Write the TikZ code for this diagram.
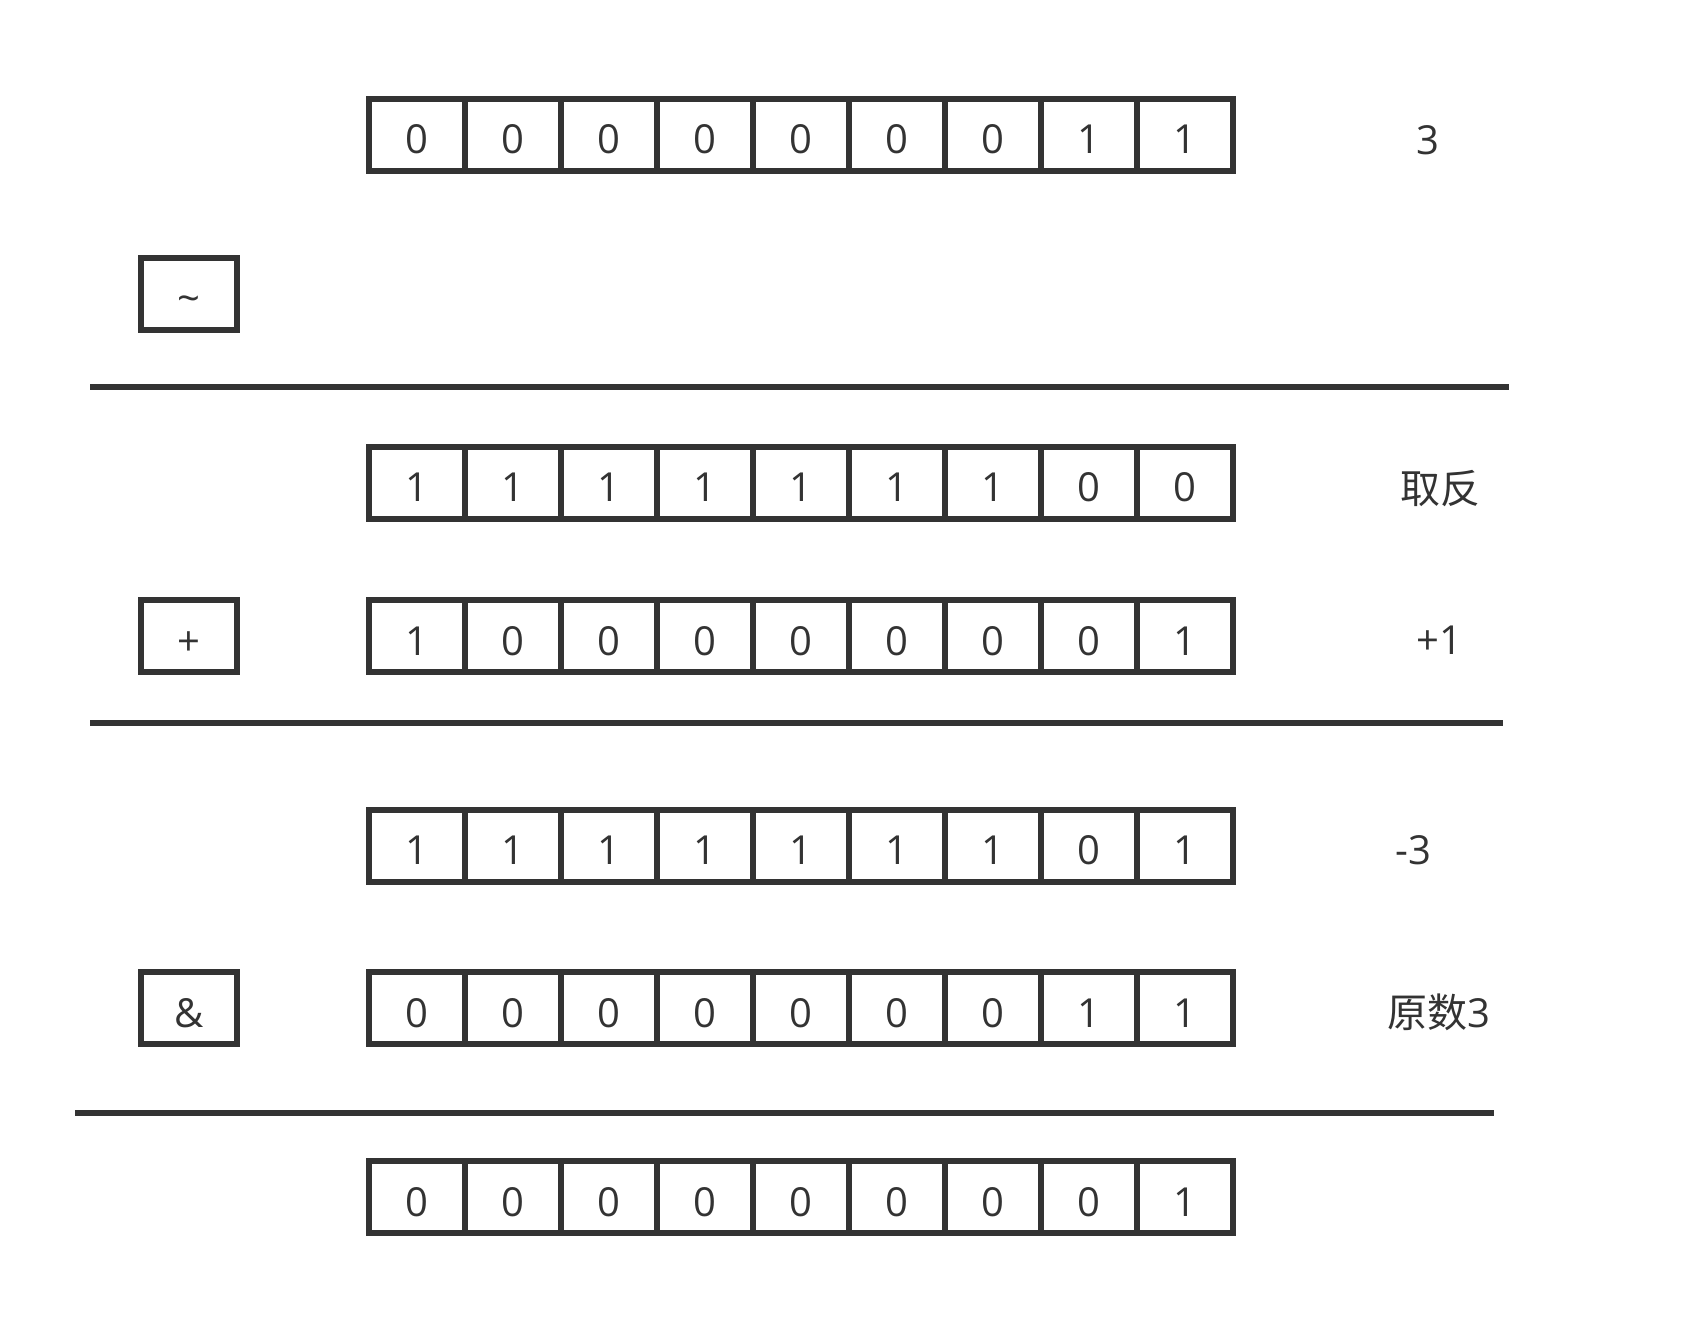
\documentclass[tikz,border=0pt]{standalone}
\usepackage{fontspec}
\setmainfont{Open Sans}
\newfontfamily\cjk{Noto Sans CJK SC}
\definecolor{ink}{HTML}{333333}
\begin{document}
\begin{tikzpicture}[x=1pt,y=-1pt,
  cell/.style={draw=ink, line width=5.7pt, minimum width=96pt, minimum height=72pt,
    inner sep=0pt, text=ink, font=\fontsize{40}{40}\selectfont,
    text height=38pt, text depth=0pt, anchor=center},
  lbl/.style={inner sep=0pt, text=ink, font=\fontsize{40}{40}\selectfont,
    text height=38pt, text depth=0pt, anchor=center},
  rule/.style={draw=ink, line width=5.7pt}]
\useasboundingbox (0,0) rectangle (1695,1332);
% rows of bits
\foreach \row/\yy/\bits in {r1/134.7/{0,0,0,0,0,0,0,1,1},
                            r2/482.7/{1,1,1,1,1,1,1,0,0},
                            r3/636/{1,0,0,0,0,0,0,0,1},
                            r4/845.8/{1,1,1,1,1,1,1,0,1},
                            r5/1008/{0,0,0,0,0,0,0,1,1},
                            r6/1197/{0,0,0,0,0,0,0,0,1}}{
  \foreach \b [count=\i from 0] in \bits {
    \node[cell] (\row c\i) at (417+96*\i,\yy) {\b};
  }
}
% operator boxes
\node[cell] (opnot) at (189,294) {\textasciitilde};
\node[cell] (opplus) at (189,636) {+};
\node[cell] (opand) at (189,1008) {\&};
% labels
\node[lbl] (l1) at (1428,135.4) {3};
\node[lbl] (l2) at (1440,484) {\cjk 取反};
\node[lbl] (l3) at (1439,635.5) {+1};
\node[lbl] (l4) at (1413,845.5) {-3};
\node[lbl] (l5) at (1439,1008.5) {\cjk 原数\normalfont 3};
% rules
\coordinate (a1) at (90,387); \coordinate (b1) at (1509,387);
\coordinate (a2) at (90,723); \coordinate (b2) at (1503,723);
\coordinate (a3) at (75,1113); \coordinate (b3) at (1494,1113);
\draw[rule] (a1) -- (b1);
\draw[rule] (a2) -- (b2);
\draw[rule] (a3) -- (b3);
\end{tikzpicture}
\end{document}
